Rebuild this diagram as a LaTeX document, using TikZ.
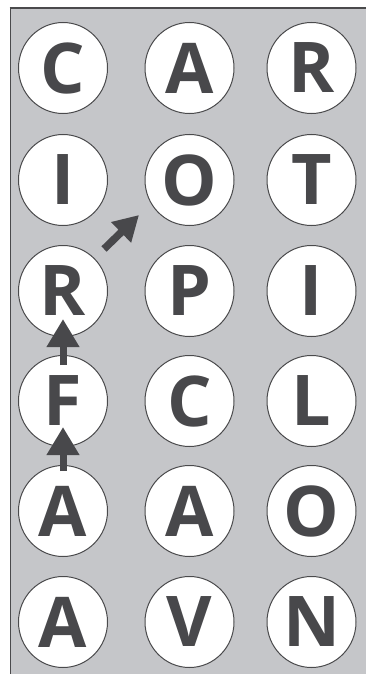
\documentclass[tikz,border=0pt]{standalone}
\usepackage{fontspec}
\newfontfamily\letterfont{Open Sans}
\usetikzlibrary{arrows.meta,shapes.geometric}
\definecolor{panelgray}{HTML}{C5C6C9}
\definecolor{edgegray}{HTML}{4A4A4C}
\definecolor{inkgray}{HTML}{48484B}
\tikzset{
  letterball/.style={ellipse, draw=edgegray, line width=1pt, fill=white,
    minimum width=89pt, minimum height=91pt, inner sep=0pt,
    text=inkgray, font=\letterfont\bfseries\fontsize{70}{70}\selectfont},
  bigarrow/.style={draw=inkgray, line width=7pt,
    -{Triangle[length=28pt,width=31pt,fill=inkgray]}},
  diagarrow/.style={draw=inkgray, line width=7.5pt,
    -{Triangle[length=25pt,width=27pt,fill=inkgray]}}
}
\begin{document}
\begin{tikzpicture}[x=1pt,y=-1pt]
\useasboundingbox (0,0) rectangle (366,674);
\fill[white] (0,0) rectangle (366,674);
\fill[panelgray] (10.5,8) rectangle (370,680);
\draw[edgegray, line width=2.5pt] (9.5,8) -- (370,8);
\draw[edgegray, line width=1.5pt] (10.5,8) -- (10.5,680);
% row 1
\node[letterball] (c1) at (63,68) {C};
\node[letterball] (a1) at (189.5,68) {A};
\node[letterball] (r1) at (311.5,68) {R};
% row 2
\node[letterball] (i2) at (63,180) {I};
\node[letterball] (o2) at (189.5,180) {O};
\node[letterball] (t2) at (311.5,180) {T};
% row 3
\node[letterball] (r3) at (63,291) {R};
\node[letterball] (p3) at (189.5,291) {P};
\node[letterball] (i3) at (311.5,291) {I};
% row 4
\node[letterball] (f4) at (63,401) {F};
\node[letterball] (c4) at (189.5,401) {C};
\node[letterball] (l4) at (311.5,401) {L};
% row 5
\node[letterball] (a5) at (63,511) {A};
\node[letterball] (a5b) at (189.5,511) {A};
\node[letterball] (o5) at (311.5,511) {O};
% row 6
\node[letterball] (a6) at (63,622) {A};
\node[letterball] (v6) at (189.5,622) {V};
\node[letterball] (n6) at (311.5,622) {N};
% arrows
\draw[bigarrow] ([yshift=-6pt]a5.north) -- ([yshift=20pt]f4.south);
\draw[bigarrow] ([yshift=-10pt]f4.north) -- ([yshift=18pt]r3.south);
\coordinate (dtail) at (104,249);
\coordinate (dtip) at (139,215);
\draw[diagarrow] (dtail) -- (dtip);
\end{tikzpicture}
\end{document}
